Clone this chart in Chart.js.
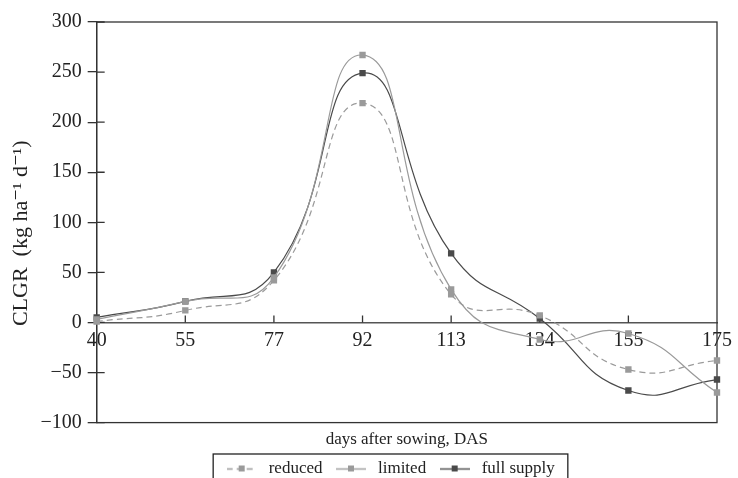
<!DOCTYPE html>
<html>
<head>
<meta charset="utf-8">
<script src="https://cdn.jsdelivr.net/npm/chart.js@4.4.1/dist/chart.umd.min.js"></script>
<style>
  html, body { margin: 0; padding: 0; overflow: hidden; background: #fff; }
  #wrap { width: 738px; height: 501px; position: relative; }
</style>
</head>
<body>
<div id="wrap"><canvas id="chart"></canvas></div>
<script>
// days after sowing (category axis)
const days = ['40', '55', '77', '92', '113', '134', '155', '175'];

// CLGR values
const reduced    = [1, 12, 42, 219, 28, 7, -47, -38];
const limited    = [3, 21, 45, 267, 33, -17, -11, -70];
const fullSupply = [5, 21, 50, 249, 69, 4, -68, -57];

const yMin = -100;
const yMax = 300;
const yStep = 50;

const SERIF = "'Liberation Serif', 'DejaVu Serif', serif";
const DARK = '#4a4a4a';
const LIGHT = '#9a9a9a';
const AXIS = '#333';

// small line + square images for the legend
function legendMark(color, dashed) {
    const c = document.createElement('canvas');
    c.width = 30; c.height = 10;
    const g = c.getContext('2d');
    g.strokeStyle = color;
    g.lineWidth = 1.4;
    if (dashed) g.setLineDash([6, 4]);
    g.beginPath();
    g.moveTo(0, 5.5); g.lineTo(30, 5.5);
    g.stroke();
    g.fillStyle = color;
    g.fillRect(12, 2, 6, 6);
    return c;
}
const marks = [legendMark(LIGHT, true), legendMark(LIGHT, false), legendMark(DARK, false)];

const framePlugin = {
    id: 'frame',
    afterLayout(chart) {
        // legend sits a bit right of the canvas centre in the original
        chart.legend.left += 26;
        chart.legend.right += 26;
    },
    beforeDatasetsDraw(chart) {
        const { ctx, chartArea: a, scales: { x, y } } = chart;
        ctx.save();
        ctx.strokeStyle = AXIS;
        ctx.lineWidth = 1.3;
        ctx.strokeRect(a.left, a.top, a.right - a.left, a.bottom - a.top);
        // inner tick marks
        ctx.beginPath();
        y.ticks.forEach((t, i) => {
            const py = y.getPixelForTick(i);
            ctx.moveTo(a.left, py); ctx.lineTo(a.left + 8, py);
        });
        const y0 = y.getPixelForValue(0);
        for (let i = 1; i < x.ticks.length - 1; i++) {
            const px = x.getPixelForTick(i);
            ctx.moveTo(px, y0); ctx.lineTo(px, y0 - 7);
        }
        ctx.stroke();
        ctx.restore();
    },
    afterDraw(chart) {
        const hb = chart.legend.legendHitBoxes;
        if (!hb || !hb.length) return;
        const ctx = chart.ctx;
        const l = Math.min(...hb.map(b => b.left)) - 10;
        const r = Math.max(...hb.map(b => b.left + b.width)) + 13;
        const t = hb[0].top - 6;
        const b = hb[0].top + hb[0].height + 10;
        ctx.save();
        ctx.strokeStyle = '#222';
        ctx.lineWidth = 1.3;
        ctx.strokeRect(l, t, r - l, b - t);
        ctx.restore();
    }
};

function series(label, data, color, dashed) {
    return {
        label: label,
        data: data,
        borderColor: color,
        backgroundColor: color,
        borderWidth: 1.2,
        borderDash: dashed ? [6, 4] : [],
        pointStyle: 'rect',
        pointRadius: 4.5,
        pointBorderWidth: 0,
        pointBackgroundColor: color,
        tension: 0.5,
        fill: false,
        clip: 10
    };
}

new Chart(document.getElementById('chart'), {
    type: 'line',
    data: {
        labels: days,
        datasets: [
            series('reduced', reduced, LIGHT, true),
            series('limited', limited, LIGHT, false),
            series('full supply', fullSupply, DARK, false)
        ]
    },
    plugins: [framePlugin],
    options: {
        responsive: true,
        maintainAspectRatio: false,
        animation: false,
        layout: { padding: { left: 8, right: 20, top: 22, bottom: 14 } },
        plugins: {
            tooltip: { enabled: false },
            legend: {
                position: 'bottom',
                labels: {
                    usePointStyle: true,
                    pointStyleWidth: 37,
                    padding: 10,
                    color: '#222',
                    font: { family: SERIF, size: 17 },
                    generateLabels(chart) {
                        const items = Chart.defaults.plugins.legend.labels.generateLabels(chart);
                        items.forEach((it, i) => { it.pointStyle = marks[i]; });
                        return items;
                    }
                }
            }
        },
        scales: {
            x: {
                type: 'category',
                position: { y: 0 },
                offset: false,
                grid: { display: false, drawTicks: false },
                border: { display: true, color: '#555', width: 1.5 },
                ticks: {
                    autoSkip: false,
                    maxRotation: 0,
                    padding: 6,
                    color: '#222',
                    font: { family: SERIF, size: 20 }
                }
            },
            x2: {
                type: 'category',
                position: 'bottom',
                grid: { display: false, drawTicks: false },
                border: { display: false },
                ticks: { display: false },
                title: {
                    display: true,
                    text: 'days after sowing, DAS',
                    color: '#222',
                    font: { family: SERIF, size: 17 },
                    padding: { top: 7, bottom: 0 }
                }
            },
            y: {
                min: yMin,
                max: yMax,
                grid: { drawOnChartArea: false, tickLength: 9, color: AXIS, lineWidth: 1.3 },
                border: { display: true, color: AXIS, width: 1.3 },
                ticks: {
                    stepSize: yStep,
                    padding: 6,
                    color: '#222',
                    font: { family: SERIF, size: 20 },
                    callback: v => String(v).replace('-', '\u2212')
                },
                title: {
                    display: true,
                    text: 'CLGR  (kg ha\u207B\u00B9 d\u207B\u00B9)    ',
                    color: '#222',
                    font: { family: SERIF, size: 22 },
                    padding: { top: 0, bottom: 0 }
                }
            }
        }
    }
});
</script>
</body>
</html>
